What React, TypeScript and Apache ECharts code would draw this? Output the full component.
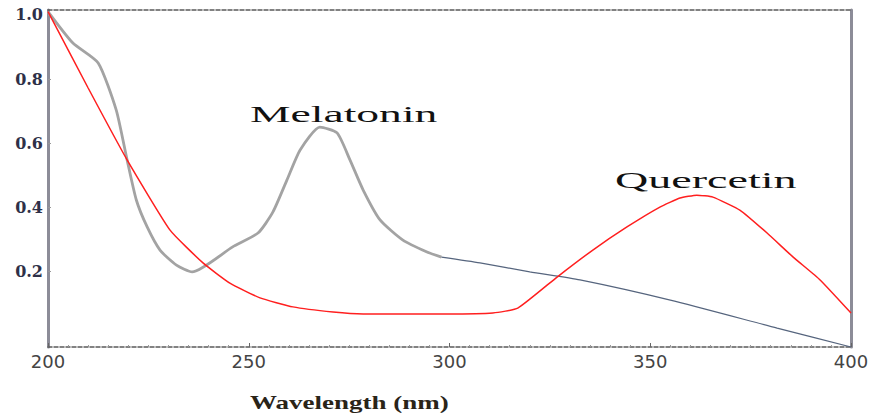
import React, { useEffect, useRef } from "react";
import * as echarts from "echarts";

const xTicks = [200, 250, 300, 350, 400];
const yTicks = [0.2, 0.4, 0.6, 0.8, 1.0];

const melatoninX = [200, 206.2, 212.5, 217, 219.7, 222, 224.7, 227.9, 232, 235.9, 246, 252.3, 256, 259.5, 262.8, 267.7, 272, 275.2, 278.5, 282.7, 288.4, 294.4, 298];
const melatoninY = [1.01, 0.912, 0.85, 0.703, 0.548, 0.423, 0.339, 0.267, 0.22, 0.199, 0.277, 0.32, 0.385, 0.485, 0.579, 0.65, 0.632, 0.548, 0.454, 0.361, 0.298, 0.261, 0.245];

const tailX = [298, 307.6, 320, 332.5, 355, 381.6, 400];
const tailY = [0.245, 0.227, 0.199, 0.174, 0.111, 0.024, -0.035];

const quercetinX = [200, 210, 219.7, 230.4, 238.6, 245.3, 252.8, 261, 271, 278.5, 299.4, 310.8, 317, 326.8, 335.7, 344.2, 352.4, 357.4, 361.6, 365.6, 372.4, 379.1, 385.6, 392.3, 400];
const quercetinY = [1.01, 0.772, 0.548, 0.329, 0.227, 0.164, 0.118, 0.09, 0.074, 0.068, 0.068, 0.071, 0.086, 0.183, 0.267, 0.339, 0.401, 0.429, 0.438, 0.432, 0.391, 0.32, 0.245, 0.174, 0.071];

const zip = (xs: number[], ys: number[]) => xs.map((x, i) => [x, ys[i]]);

export default function App() {
  const ref = useRef<HTMLDivElement>(null);
  useEffect(() => {
    if (!ref.current) return;
    const chart = echarts.init(ref.current, null, { renderer: "svg" });
    const gridLeft = 48, gridRight = 21, gridTop = 10, gridBottom = 70;
    chart.setOption({
      animation: false,
      backgroundColor: "#ffffff",
      grid: { left: gridLeft, right: gridRight, top: gridTop, bottom: gridBottom, containLabel: false },
      xAxis: [
        {
          type: "value",
          min: 200,
          max: 400,
          interval: 50,
          position: "bottom",
          splitLine: { show: false },
          axisLine: { show: true, onZero: false, lineStyle: { color: "#5a5a5a", width: 1.5, type: [4, 2] } },
          axisTick: { show: true, inside: true, length: 4, lineStyle: { color: "#666" } },
          minorTick: { show: true, splitNumber: 10, length: 2, lineStyle: { color: "#999" } },
          axisLabel: {
            show: true,
            margin: 5,
            color: "#444",
            fontFamily: "DejaVu Sans",
            fontSize: 18,
            customValues: xTicks,
          },
        },
        {
          type: "value",
          min: 200,
          max: 400,
          position: "top",
          splitLine: { show: false },
          axisLine: { show: true, onZero: false, lineStyle: { color: "#5a5a5a", width: 1.5, type: [4, 2] } },
          axisTick: { show: false },
          axisLabel: { show: false },
        },
      ],
      yAxis: [
        {
          type: "value",
          min: -0.035,
          max: 1.015,
          position: "left",
          splitLine: { show: false },
          axisLine: { show: true, onZero: false, lineStyle: { color: "#8c8c98", width: 3 } },
          axisTick: { show: true, inside: true, length: 3, lineStyle: { color: "#999" }, customValues: yTicks },
          axisLabel: {
            show: true,
            margin: 5,
            color: "#2e3048",
            fontFamily: "DejaVu Serif",
            fontWeight: "bold",
            fontSize: 16,
            customValues: yTicks,
            formatter: (v: number) => v.toFixed(1),
          },
        },
        {
          type: "value",
          min: -0.035,
          max: 1.015,
          position: "right",
          splitLine: { show: false },
          axisLine: { show: true, onZero: false, lineStyle: { color: "#8c8c98", width: 3 } },
          axisTick: { show: false },
          axisLabel: { show: false },
        },
      ],
      series: [
        {
          name: "Melatonin",
          type: "line",
          data: zip(melatoninX, melatoninY),
          showSymbol: false,
          smooth: 0.2,
          lineStyle: { color: "#a3a3a3", width: 2.8 },
          z: 2,
        },
        {
          name: "Melatonin tail",
          type: "line",
          data: zip(tailX, tailY),
          showSymbol: false,
          smooth: 0.2,
          lineStyle: { color: "#56657e", width: 1.2 },
          z: 2,
        },
        {
          name: "Quercetin",
          type: "line",
          data: zip(quercetinX, quercetinY),
          showSymbol: false,
          smooth: 0.15,
          lineStyle: { color: "#ff1f1f", width: 1.5 },
          z: 3,
        },
      ],
      graphic: [
        {
          type: "text",
          x: 250,
          y: 114,
          scaleX: 1.9,
          style: {
            text: "Melatonin",
            fontFamily: "Liberation Serif",
            fontSize: 24,
            fill: "#111",
            textAlign: "left",
            textVerticalAlign: "middle",
          },
        },
        {
          type: "text",
          x: 615,
          y: 180,
          scaleX: 1.92,
          style: {
            text: "Quercetin",
            fontFamily: "Liberation Serif",
            fontSize: 24,
            fill: "#111",
            textAlign: "left",
            textVerticalAlign: "middle",
          },
        },
        {
          type: "text",
          x: 250,
          y: 403,
          scaleX: 1.5,
          style: {
            text: "Wavelength (nm)",
            fontFamily: "Liberation Serif",
            fontWeight: "bold",
            fontSize: 18,
            fill: "#2a2418",
            textAlign: "left",
            textVerticalAlign: "middle",
          },
        },
      ],
    });
    return () => chart.dispose();
  }, []);
  return (
    <div
      ref={ref}
      style={{ position: "fixed", left: 0, top: 0, width: 872, height: 417 }}
    />
  );
}
